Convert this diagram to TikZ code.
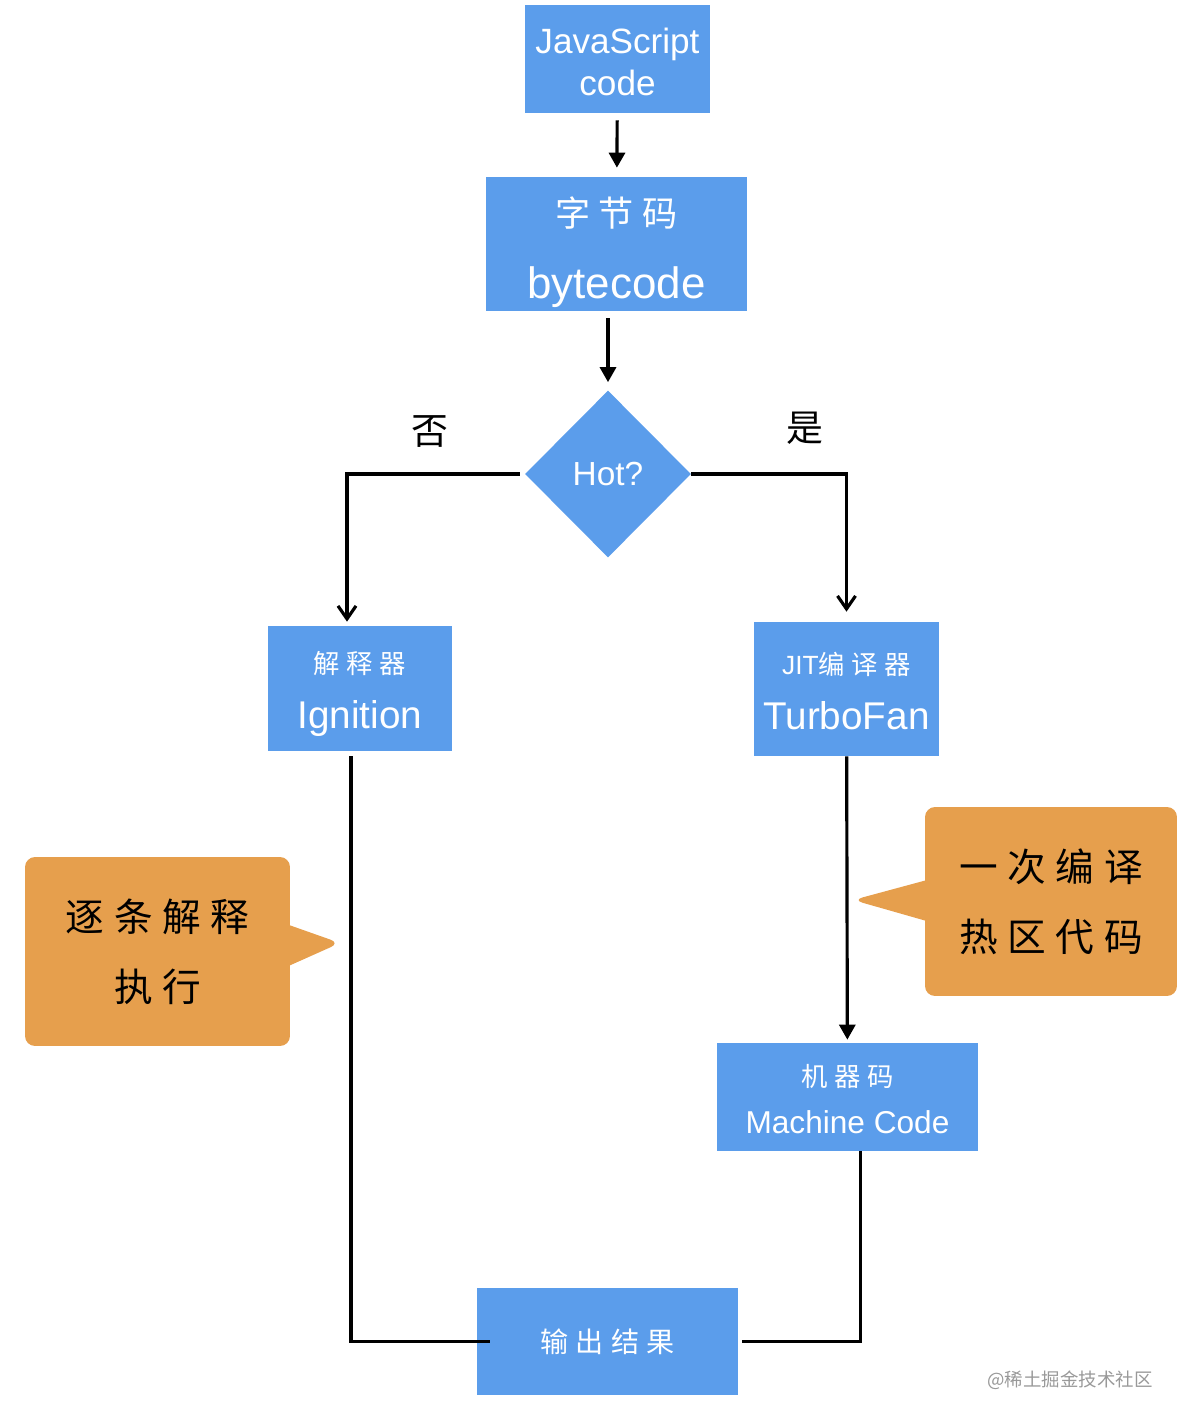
\documentclass[tikz,border=0pt]{standalone}
\usepackage{fontspec}
\setmainfont{Liberation Sans}
\newfontfamily\cjk{Noto Sans CJK SC}
\newfontfamily\cjkw[LetterSpace=25]{Noto Sans CJK SC}
\usepackage{tikz}
\usetikzlibrary{shapes,shapes.geometric,shapes.callouts,arrows,arrows.meta,positioning}
\definecolor{boxblue}{RGB}{91,157,235}
\definecolor{noteorange}{RGB}{230,159,77}
\newcommand{\fsz}[1]{\fontsize{#1}{#1}\selectfont}

\begin{document}
\begin{tikzpicture}[x=0.02cm, y=-0.02cm]
        \tikzstyle{every node} = [align=center, text=white, inner sep=0pt]
        \tikzstyle{box} = [rectangle, fill=boxblue]
        \tikzstyle{note} = [rectangle callout, fill=noteorange, rounded corners=0.2cm, text=black, callout pointer width=0.8cm, font=\cjkw\fontsize{22}{40}\selectfont]
        \tikzstyle{link} = [line width=1.8pt, black]
        \tikzstyle{solid tip} = [-{Triangle[length=0.3cm, width=0.32cm]}]
        \tikzstyle{open tip} = [-{Straight Barb[length=0.26cm, width=0.36cm]}]
        \useasboundingbox (0,0) rectangle (1184,1424);

        \node[box, minimum width=3.7cm, minimum height=2.16cm, font=\fontsize{20}{24}\selectfont](js) at (617.5,59){\rule{0pt}{18pt}JavaScript\\code};
        \node[box, minimum width=5.22cm, minimum height=2.68cm](bc) at (616.5,244){\rule{0pt}{26pt}{\cjkw\fsz{20}字节码}\\[20pt]{\fsz{25}bytecode}};
        \node[diamond, fill=boxblue, minimum width=3.32cm, minimum height=3.34cm, font=\fsz{19}](hot) at (608,474){Hot?};
        \node[text=black, font=\cjk\fsz{21}](no) at (430,432){否};
        \node[text=black, font=\cjk\fsz{21}](yes) at (805,428){是};

        \node[box, minimum width=3.68cm, minimum height=2.5cm](ign) at (360,688.5){\rule{0pt}{19pt}{\cjkw\fsz{15}解释器}\\[13pt]{\fsz{22}Ignition}};
        \node[box, minimum width=3.7cm, minimum height=2.68cm](jit) at (846.5,689){\rule{0pt}{15pt}{\fsz{15}JIT\cjkw 编译器}\\[13pt]{\fsz{22}TurboFan}};
        \node[box, minimum width=5.22cm, minimum height=2.16cm](mc) at (847.5,1097){\rule{0pt}{15pt}{\cjkw\fsz{15}机器码}\\[12pt]{\fsz{18}Machine Code}};
        \node[box, minimum width=5.22cm, minimum height=2.14cm, font=\cjkw\fsz{16}](out) at (607.5,1341.5){输出结果};

        \node[note, minimum width=5.3cm, minimum height=3.78cm, callout absolute pointer={(340,943)}](lnote) at (157.5,951.5){逐条解释\\执行};
        \node[note, minimum width=5.04cm, minimum height=3.78cm, callout absolute pointer={(853,900)}](rnote) at (1051,901.5){一次编译\\热区代码};

        \node[text=gray!80, font=\cjk\fsz{10.5}](mark) at (1070,1380){@稀土掘金技术社区};

        \draw[link, solid tip, shorten <=0.14cm, shorten >=0.18cm] (js) -- (bc);
        \draw[link, solid tip, shorten <=0.14cm, shorten >=0.16cm] (bc.south -| hot.north) -- (hot.north);
        \draw[link, open tip, shorten <=0.1cm, shorten >=0.08cm] (hot.west) -| ([xshift=-0.26cm]ign.north);
        \draw[link, open tip, shorten >=0.2cm] (hot.east) -| (jit.north);
        \draw[link, shorten <=0.1cm, shorten >=-0.26cm] ([xshift=-0.18cm]ign.south) |- (out.west);
        \draw[link, solid tip, shorten >=0.06cm] (jit) -- (mc);
        \draw[link, shorten >=0.08cm] ([xshift=0.26cm]mc.south) |- (out.east);
    \end{tikzpicture}
\end{document}
